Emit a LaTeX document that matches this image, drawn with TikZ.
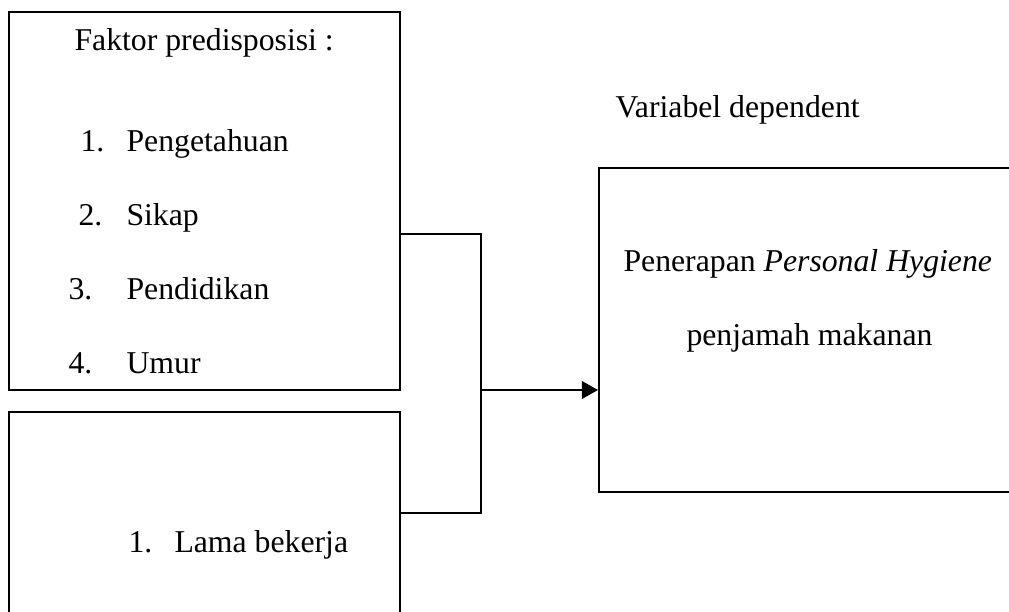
\documentclass[tikz,border=0pt]{standalone}
\usepackage{fontspec}
\setmainfont{Liberation Serif}
\usetikzlibrary{arrows.meta}
\begin{document}
\begin{tikzpicture}[x=0.4pt,y=-0.4pt]
 \tikzset{box/.style={draw, line width=0.8pt, inner sep=0pt, minimum width=156.4pt},
          txt/.style={anchor=base west, inner sep=0pt, font=\fontsize{12.7}{15}\selectfont},
          link/.style={line width=0.8pt}}
  \useasboundingbox (0,0) rectangle (1009,612);
  \clip (0,0) rectangle (1009,612);
  \node[box, minimum height=151.2pt] (pre) at (204.5,201) {};
  \node[box, minimum height=80.8pt] (kerja) at (204.5,513) {};
  \node[box, minimum width=168.4pt, minimum height=129.6pt] (dep) at (809.5,330) {};
  \node[txt] (pretitle) at (74,51) {Faktor predisposisi :};
  \node[txt] (n1) at (80,152) {1.};
  \node[txt] (tahu) at (126,152) {Pengetahuan};
  \node[txt] (n2) at (78,226) {2.};
  \node[txt] (sikap) at (126,226) {Sikap};
  \node[txt] (n3) at (68,300) {3.};
  \node[txt] (didik) at (126,300) {Pendidikan};
  \node[txt] (n4) at (68,374) {4.};
  \node[txt] (umur) at (126,374) {Umur};
  \node[txt] (n5) at (128,553) {1.};
  \node[txt] (lama) at (174,553) {Lama bekerja};
  \node[txt] (deptitle) at (615,118) {Variabel dependent};
  \node[txt] (ph) at (623,272) {Penerapan \textit{Personal Hygiene}};
  \node[txt] (jamah) at (686,346) {penjamah makanan};
  \coordinate (jn) at (481,390);
  \draw[link] (pre.east |- 0,234) -| (jn);
  \draw[link] (kerja.east) -| (jn);
  \draw[link, -{Triangle[length=6.4pt, width=7pt]}] (jn) -- (dep.west |- jn);
\end{tikzpicture}
\end{document}
